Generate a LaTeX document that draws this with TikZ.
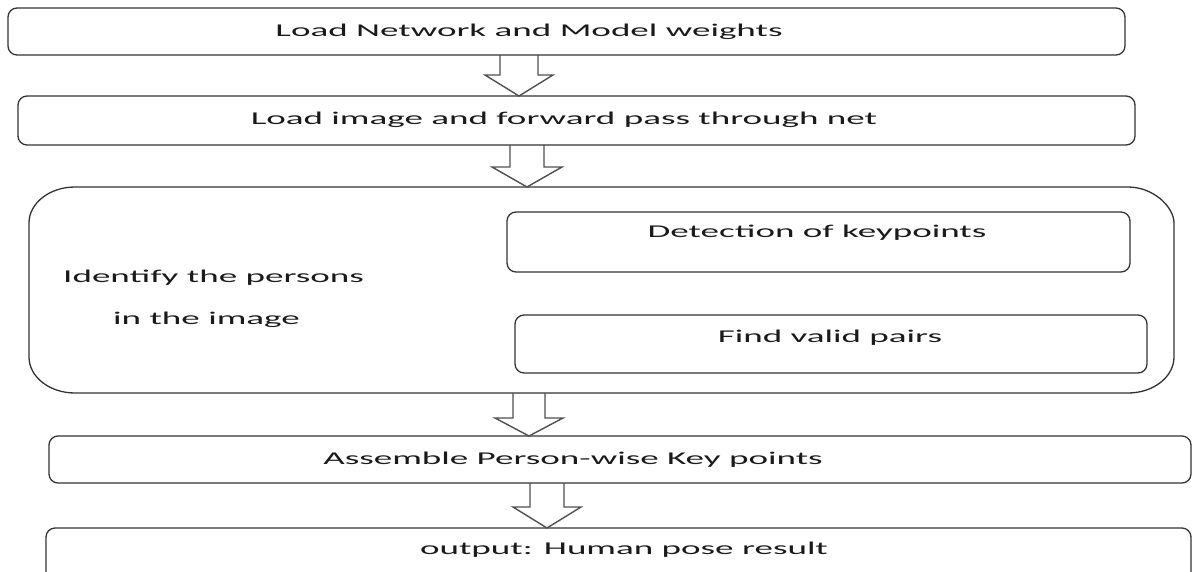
\documentclass[tikz,border=0pt]{standalone}
\usepackage{fontspec}
\setmainfont{Carlito}
\usepackage{graphicx}
\definecolor{boxline}{HTML}{333333}
\definecolor{arrline}{HTML}{505050}
\definecolor{txtcol}{HTML}{1A1A1A}
\newcommand\widetext[1]{\scalebox{2.06}[1]{#1}}
\tikzset{
  box/.style={draw=boxline, line width=1.3pt, rounded corners=9pt, inner sep=0pt, fill=none},
  bigline/.style={draw=boxline, line width=1.3pt},
  txt/.style={text=txtcol, inner sep=0pt, font=\fontsize{18}{21.6}\selectfont},
  blk/.style={draw=arrline, line width=1.4pt, line join=miter},
}
% block arrow: x, ytop, ybase, ytip, shaft half width, head half width
\newcommand\blockarr[6]{%
  \draw[blk] (#1-#5,#2) -- (#1-#5,#3) -- (#1-#6,#3) -- (#1,#4) -- (#1+#6,#3) -- (#1+#5,#3) -- (#1+#5,#2);}
\begin{document}
\begin{tikzpicture}[x=1pt,y=-1pt]
\useasboundingbox (0,0) rectangle (1194,571);
\clip (0,0) rectangle (1194,571);
% boxes
\node[box, minimum width=1117pt, minimum height=47pt] (b1) at (566.5,31.5) {};
\node[box, minimum width=1117pt, minimum height=49pt] (b2) at (576.5,120.5) {};
\node[inner sep=0pt, minimum width=1145pt, minimum height=206pt] (big) at (601.5,290) {};
\draw[bigline] (75,187) -- (1128,187)
  .. controls (1153.4,187) and (1174,206.9) .. (1174,223)
  -- (1174,357)
  .. controls (1174,376.9) and (1153.4,393) .. (1128,393)
  -- (75,393)
  .. controls (49.6,393) and (29,376.9) .. (29,357)
  -- (29,223)
  .. controls (29,203.1) and (49.6,187) .. cycle;
\node[box, minimum width=623pt, minimum height=60pt] (det) at (818.5,242) {};
\node[box, minimum width=632pt, minimum height=58pt] (fvp) at (831,344) {};
\node[box, minimum width=1142pt, minimum height=47pt] (asm) at (620,459.5) {};
\node[box, minimum width=1145pt, minimum height=72pt] (out) at (618.5,564) {};
% texts
\node[txt] (t1) at (529,32) {\widetext{Load Network and Model weights}};
\node[txt] (t2) at (564,120) {\widetext{Load image and forward pass through net}};
\node[txt, anchor=west] (tid1) at (63,278) {\widetext{Identify the persons}};
\node[txt, anchor=west] (tid2) at (113,320) {\widetext{in the image}};
\node[txt] (tdet) at (817,233) {\widetext{Detection of keypoints}};
\node[txt] (tfvp) at (830,338) {\widetext{Find valid pairs}};
\node[txt] (tasm) at (573,460) {\widetext{Assemble Person-wise Key points}};
\node[txt] (tout) at (624,550) {\widetext{output: Human pose result}};
% block arrows
\blockarr{519}{55}{75}{96}{19}{34}
\blockarr{527}{145}{167}{187}{17}{35}
\blockarr{529}{393}{418}{436}{16}{34}
\blockarr{547}{483}{507}{528}{17}{34}
\end{tikzpicture}
\end{document}
